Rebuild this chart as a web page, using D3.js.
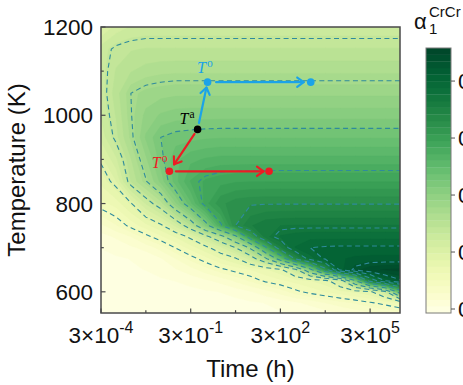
<!DOCTYPE html>
<html>
<head>
<meta charset="utf-8">
<script src="https://cdn.jsdelivr.net/npm/d3@7"></script>
<style>
  body { margin: 0; background: #fff; }
  svg { display: block; }
</style>
</head>
<body>
<svg id="chart" width="463" height="385"></svg>
<script>
// Ageing time grid (h), one column every half decade
const timeColumns = [3e-4, 9.49e-4, 3e-3, 9.49e-3, 0.03, 0.0949, 0.3, 0.949, 3, 9.49,
  30, 94.9, 300, 949, 3000, 9487, 3e4, 9.49e4, 3e5, 9.49e5, 3e6];
// Temperature rows (K)
const temperatureRows = [550, 575, 600, 625, 650, 675, 700, 725, 750, 800, 850, 900, 950,
  1000, 1050, 1100, 1150, 1200];
// Short-range order parameter alpha_1^CrCr, one row per temperature
const alphaRows = [
  [0, 0, 0, 0, 0, 0, 0, 0, 0, 0, 0, 0.001, 0.003, 0.004, 0.006, 0.01, 0.014, 0.019, 0.024, 0.028, 0.031],
  [0, 0, 0, 0, 0, 0, 0, 0, 0, 0.001, 0.003, 0.005, 0.009, 0.014, 0.02, 0.028, 0.035, 0.041, 0.048, 0.055, 0.066],
  [0, 0, 0, 0, 0, 0, 0.001, 0.003, 0.005, 0.009, 0.015, 0.023, 0.033, 0.046, 0.055, 0.063, 0.07, 0.077, 0.085, 0.124, 0.253],
  [0, 0, 0, 0, 0.003, 0.005, 0.009, 0.014, 0.02, 0.03, 0.041, 0.053, 0.06, 0.067, 0.074, 0.082, 0.113, 0.22, 0.345, 0.4, 0.422],
  [0, 0.001, 0.003, 0.005, 0.009, 0.015, 0.023, 0.034, 0.046, 0.055, 0.063, 0.072, 0.084, 0.126, 0.213, 0.318, 0.406, 0.43, 0.443, 0.448, 0.45],
  [0.001, 0.003, 0.005, 0.009, 0.015, 0.028, 0.043, 0.058, 0.074, 0.087, 0.117, 0.167, 0.247, 0.334, 0.382, 0.403, 0.41, 0.414, 0.415, 0.415, 0.415],
  [0.005, 0.009, 0.014, 0.02, 0.033, 0.051, 0.068, 0.084, 0.106, 0.135, 0.181, 0.273, 0.35, 0.389, 0.4, 0.402, 0.403, 0.403, 0.403, 0.403, 0.403],
  [0.011, 0.018, 0.028, 0.045, 0.06, 0.076, 0.095, 0.126, 0.161, 0.215, 0.305, 0.36, 0.378, 0.382, 0.384, 0.384, 0.384, 0.384, 0.384, 0.384, 0.384],
  [0.025, 0.038, 0.055, 0.07, 0.086, 0.113, 0.153, 0.213, 0.275, 0.33, 0.352, 0.362, 0.365, 0.366, 0.366, 0.366, 0.366, 0.366, 0.366, 0.366, 0.366],
  [0.058, 0.068, 0.088, 0.122, 0.15, 0.2, 0.246, 0.29, 0.315, 0.325, 0.328, 0.329, 0.329, 0.329, 0.329, 0.329, 0.329, 0.329, 0.329, 0.329, 0.329],
  [0.078, 0.097, 0.145, 0.173, 0.206, 0.244, 0.273, 0.286, 0.291, 0.294, 0.295, 0.295, 0.295, 0.295, 0.295, 0.295, 0.295, 0.295, 0.295, 0.295, 0.295],
  [0.093, 0.118, 0.155, 0.188, 0.22, 0.246, 0.257, 0.262, 0.265, 0.265, 0.265, 0.265, 0.265, 0.265, 0.265, 0.265, 0.265, 0.265, 0.265, 0.265, 0.265],
  [0.113, 0.14, 0.17, 0.204, 0.225, 0.231, 0.233, 0.235, 0.236, 0.236, 0.236, 0.236, 0.236, 0.236, 0.236, 0.236, 0.236, 0.236, 0.236, 0.236, 0.236],
  [0.122, 0.145, 0.174, 0.194, 0.204, 0.208, 0.209, 0.209, 0.209, 0.209, 0.209, 0.209, 0.209, 0.209, 0.209, 0.209, 0.209, 0.209, 0.209, 0.209, 0.209],
  [0.126, 0.15, 0.175, 0.183, 0.186, 0.188, 0.188, 0.188, 0.188, 0.188, 0.188, 0.188, 0.188, 0.188, 0.188, 0.188, 0.188, 0.188, 0.188, 0.188, 0.188],
  [0.127, 0.145, 0.155, 0.161, 0.164, 0.165, 0.165, 0.165, 0.165, 0.165, 0.165, 0.165, 0.165, 0.165, 0.165, 0.165, 0.165, 0.165, 0.165, 0.165, 0.165],
  [0.126, 0.139, 0.143, 0.145, 0.145, 0.145, 0.145, 0.145, 0.145, 0.145, 0.145, 0.145, 0.145, 0.145, 0.145, 0.145, 0.145, 0.145, 0.145, 0.145, 0.145],
  [0.096, 0.113, 0.122, 0.124, 0.124, 0.124, 0.124, 0.124, 0.124, 0.124, 0.124, 0.124, 0.124, 0.124, 0.124, 0.124, 0.124, 0.124, 0.124, 0.124, 0.124]
];
// Iso-alpha lines drawn dashed
const dashedLevels = [0.05, 0.09, 0.135, 0.175, 0.225, 0.28, 0.33, 0.37, 0.4, 0.425];
// Colour bar
const colorRange = [-0.007, 0.458];
const colorbarTicks = [0, 0.1, 0.2, 0.3, 0.4];
const colorbarLabels = ["0.0", "0.1", "0.2", "0.3", "0.4"];
// Axes
const xTickValues = [3e-4, 3e-1, 3e2, 3e5];
const xTickExponents = ["-4", "-1", "2", "5"];
const xMinorTicks = [9.49e-3, 9.49, 9487];
const yTickValues = [600, 800, 1000, 1200];
const yMinorTicks = [700, 900, 1100];
// Heat-treatment paths: [time (h), temperature (K)]
const agedPoint = [0.51, 968];
const heatPath = [[1.1, 1075], [3100, 1075]];
const coolPath = [[0.058, 873], [125, 873]];

const svg = d3.select("#chart");
const plot = { left: 101, right: 400, top: 27, bottom: 313 };
const x = d3.scaleLog().domain([3e-4, 3e6]).range([plot.left, plot.right]);
const y = d3.scaleLinear().domain([552, 1200]).range([plot.bottom, plot.top]);

const nx = timeColumns.length, ny = temperatureRows.length;
const colPx = timeColumns.map(x);
const rowPx = temperatureRows.map(y);

// contour grid coordinate (cell centres at i + 0.5) -> pixel
function gridToPx(arr, g) {
  const u = g - 0.5, n = arr.length;
  if (u <= 0) return arr[0] + u * (arr[1] - arr[0]);
  if (u >= n - 1) return arr[n - 1] + (u - (n - 1)) * (arr[n - 1] - arr[n - 2]);
  const i = Math.floor(u);
  return arr[i] + (u - i) * (arr[i + 1] - arr[i]);
}
const values = alphaRows.flat();
const gridProjection = d3.geoTransform({
  point(gx, gy) { this.stream.point(gridToPx(colPx, gx), gridToPx(rowPx, gy)); }
});
const gridPath = d3.geoPath(gridProjection);

svg.append("defs").append("clipPath").attr("id", "plotClip")
  .append("rect")
  .attr("x", plot.left).attr("y", plot.top)
  .attr("width", plot.right - plot.left).attr("height", plot.bottom - plot.top);

// filled bands
const nBands = 40;
const bandEdges = d3.range(nBands + 1).map(i => colorRange[0] + i * (colorRange[1] - colorRange[0]) / nBands);
const bandColor = i => d3.interpolateYlGn((i + 0.5) / nBands);

const field = svg.append("g").attr("clip-path", "url(#plotClip)");
const filled = d3.contours().size([nx, ny]).thresholds(bandEdges.slice(0, nBands))(values);
field.selectAll("path.band")
  .data(filled)
  .join("path")
  .attr("class", "band")
  .attr("d", gridPath)
  .attr("fill", (d, i) => bandColor(i))
  .attr("stroke", (d, i) => bandColor(i))
  .attr("stroke-width", 0.4);

// dashed iso-lines
const lines = d3.contours().size([nx, ny]).thresholds(dashedLevels)(values);
field.selectAll("path.iso")
  .data(lines)
  .join("path")
  .attr("class", "iso")
  .attr("d", gridPath)
  .attr("fill", "none")
  .attr("stroke", "#2f8b9c")
  .attr("stroke-width", 1.1)
  .attr("stroke-dasharray", "5,3.4");

// heat-treatment arrows
function arrow(p, q, color, startGap, endGap) {
  const x1 = x(p[0]), y1 = y(p[1]), x2 = x(q[0]), y2 = y(q[1]);
  const len = Math.hypot(x2 - x1, y2 - y1);
  const ux = (x2 - x1) / len, uy = (y2 - y1) / len;
  const sx = x1 + ux * startGap, sy = y1 + uy * startGap;
  const ex = x2 - ux * endGap, ey = y2 - uy * endGap;
  const g = svg.append("g").attr("stroke", color).attr("stroke-width", 2.2)
    .attr("fill", "none").attr("stroke-linecap", "round").attr("stroke-linejoin", "round");
  g.append("line").attr("x1", sx).attr("y1", sy).attr("x2", ex).attr("y2", ey);
  const a = 0.62, h = 8;
  const bx = -ux, by = -uy;
  const l1 = [ex + h * (bx * Math.cos(a) - by * Math.sin(a)), ey + h * (bx * Math.sin(a) + by * Math.cos(a))];
  const l2 = [ex + h * (bx * Math.cos(-a) - by * Math.sin(-a)), ey + h * (bx * Math.sin(-a) + by * Math.cos(-a))];
  g.append("polyline").attr("points", [l1, [ex, ey], l2].map(d => d.join(",")).join(" "));
}
const blue = "#1ba3e8", red = "#ec1c24";
arrow(agedPoint, heatPath[0], blue, 6.5, 5.5);
arrow(heatPath[0], heatPath[1], blue, 8.5, 7);
arrow(agedPoint, coolPath[0], red, 5.5, 8.5);
arrow(coolPath[0], coolPath[1], red, 6.5, 5.5);

function dot(p, color) {
  svg.append("circle").attr("cx", x(p[0])).attr("cy", y(p[1])).attr("r", 3.8).attr("fill", color);
}
dot(heatPath[0], blue); dot(heatPath[1], blue);
dot(coolPath[0], red); dot(coolPath[1], red);
dot(agedPoint, "#000");

function stateLabel(p, sup, color, dx, dy) {
  const t = svg.append("text")
    .attr("x", x(p[0]) + dx).attr("y", y(p[1]) + dy)
    .attr("fill", color)
    .style("font-family", "'Liberation Serif', 'DejaVu Serif', serif");
  t.append("tspan").text("T").style("font-style", "italic").style("font-size", "16px");
  t.append("tspan").text(sup).attr("dy", -6).attr("dx", 1).style("font-size", "11.5px");
}
stateLabel(heatPath[0], "o", blue, -10.5, -9.5);
stateLabel(agedPoint, "a", "#000", -18, -5.5);
stateLabel(coolPath[0], "o", red, -17.5, -3);

// frame and ticks
const axisColor = "#4a4a4a";
svg.append("rect")
  .attr("x", plot.left).attr("y", plot.top)
  .attr("width", plot.right - plot.left).attr("height", plot.bottom - plot.top)
  .attr("fill", "none").attr("stroke", axisColor).attr("stroke-width", 1.5);

const ticks = svg.append("g").attr("stroke", axisColor).attr("stroke-width", 1.2);
yTickValues.forEach(v => ticks.append("line").attr("x1", plot.left).attr("x2", plot.left + 4.5).attr("y1", y(v)).attr("y2", y(v)));
yMinorTicks.forEach(v => ticks.append("line").attr("x1", plot.left).attr("x2", plot.left + 2.8).attr("y1", y(v)).attr("y2", y(v)));
xTickValues.forEach(v => ticks.append("line").attr("x1", x(v)).attr("x2", x(v)).attr("y1", plot.bottom).attr("y2", plot.bottom - 4.5));
xMinorTicks.forEach(v => ticks.append("line").attr("x1", x(v)).attr("x2", x(v)).attr("y1", plot.bottom).attr("y2", plot.bottom - 2.8));

const sans = "'Liberation Sans', Arial, sans-serif";
const labels = svg.append("g").style("font-family", sans).attr("fill", "#111");
yTickValues.forEach(v => labels.append("text")
  .attr("x", plot.left - 8).attr("y", y(v) + 8)
  .attr("text-anchor", "end").style("font-size", "22.5px").text(v));
xTickValues.forEach((v, i) => {
  const t = labels.append("text").attr("x", x(v)).attr("y", 343)
    .attr("text-anchor", "middle").style("font-size", "22.5px");
  t.append("tspan").text("3×10");
  t.append("tspan").text(xTickExponents[i]).attr("dy", -10).style("font-size", "16px");
});
labels.append("text").attr("x", (plot.left + plot.right) / 2).attr("y", 377)
  .attr("text-anchor", "middle").style("font-size", "24px").text("Time (h)");
labels.append("text").attr("transform", `translate(25,${(plot.top + plot.bottom) / 2}) rotate(-90)`)
  .attr("text-anchor", "middle").style("font-size", "24px").text("Temperature (K)");

// colour bar
const cb = { left: 426, right: 451, top: 48, bottom: 313 };
const cbScale = d3.scaleLinear().domain(colorRange).range([cb.bottom, cb.top]);
const cbg = svg.append("g");
d3.range(nBands).forEach(i => cbg.append("rect")
  .attr("x", cb.left).attr("width", cb.right - cb.left)
  .attr("y", cbScale(bandEdges[i + 1])).attr("height", cbScale(bandEdges[i]) - cbScale(bandEdges[i + 1]) + 0.3)
  .attr("fill", bandColor(i)));
cbg.append("rect").attr("x", cb.left).attr("y", cb.top)
  .attr("width", cb.right - cb.left).attr("height", cb.bottom - cb.top)
  .attr("fill", "none").attr("stroke", "#7a7a7a").attr("stroke-width", 1);
colorbarTicks.forEach((v, i) => {
  cbg.append("line").attr("x1", cb.right).attr("x2", cb.right + 4)
    .attr("y1", cbScale(v)).attr("y2", cbScale(v)).attr("stroke", "#555").attr("stroke-width", 1);
  cbg.append("text").attr("x", cb.right + 7).attr("y", cbScale(v) + 8)
    .style("font-family", sans).style("font-size", "22.5px").attr("fill", "#111")
    .text(colorbarLabels[i]);
});
const title = svg.append("g").style("font-family", sans).attr("fill", "#111");
title.append("text").attr("x", 414).attr("y", 28.5).style("font-size", "22px").text("α");
title.append("text").attr("x", 429).attr("y", 34).style("font-size", "15px").text("1");
title.append("text").attr("x", 429).attr("y", 17).style("font-size", "15px").text("CrCr");
</script>
</body>
</html>
